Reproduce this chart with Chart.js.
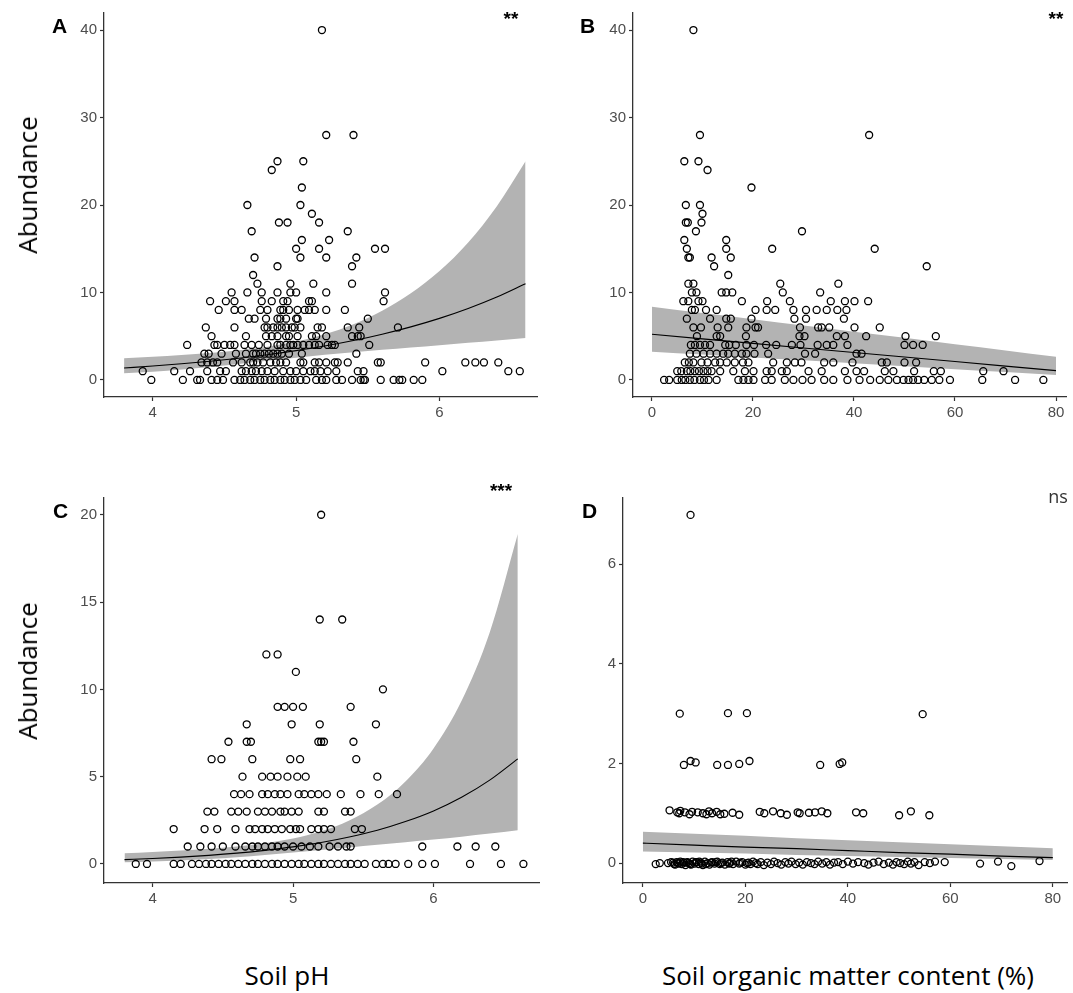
<!DOCTYPE html>
<html>
<head>
<meta charset="utf-8">
<script src="https://cdn.jsdelivr.net/npm/chart.js@4.4.1/dist/chart.umd.min.js"></script>
<style>
  html, body { margin: 0; padding: 0; background: #fff; }
  #fig { position: relative; width: 1073px; height: 993px; overflow: hidden; font-family: "Liberation Sans", Arial, sans-serif; }
  canvas { position: absolute; }
  .tag { position: absolute; font-weight: bold; font-size: 21px; line-height: 1; color: #000; }
  .sig { position: absolute; font-weight: bold; font-size: 19px; line-height: 1; color: #000; transform: translateX(-50%); }
  .ns { position: absolute; font-family: "Open Sans", sans-serif; font-size: 18px; line-height: 1; color: #333; transform: translateX(-50%); }
  .title { position: absolute; font-family: "Open Sans", sans-serif; font-size: 26px; line-height: 1; color: #000; white-space: nowrap; }
  .xt { transform: translate(-50%, -50%); }
  .yt { transform: translate(-50%, -50%) rotate(-90deg); }
</style>
</head>
<body>
<div id="fig">
  <canvas id="cA" width="545" height="440" style="left:0;top:0"></canvas>
  <canvas id="cB" width="528" height="440" style="left:545px;top:0"></canvas>
  <canvas id="cC" width="545" height="440" style="left:0;top:470px"></canvas>
  <canvas id="cD" width="528" height="440" style="left:545px;top:470px"></canvas>

  <div class="tag" style="left:52px;top:15px">A</div>
  <div class="tag" style="left:580px;top:15px">B</div>
  <div class="tag" style="left:53px;top:500px">C</div>
  <div class="tag" style="left:582px;top:500px">D</div>

  <div class="sig" style="left:511px;top:9px">**</div>
  <div class="sig" style="left:1056px;top:9px">**</div>
  <div class="sig" style="left:501px;top:481px">***</div>
  <div class="ns" style="left:1058px;top:487px">ns</div>

  <div class="title yt" style="left:27px;top:185px">Abundance</div>
  <div class="title yt" style="left:27px;top:671px">Abundance</div>
  <div class="title xt" style="left:287px;top:975px">Soil pH</div>
  <div class="title xt" style="left:848px;top:975px">Soil organic matter content (%)</div>
</div>

<script>
// ---------- Tick values ----------
const phTicks = [4, 5, 6];
const somTicks = [0, 20, 40, 60, 80];
const abundTicksTop = [0, 10, 20, 30, 40];
const abundTicksC = [0, 5, 10, 15, 20];
const abundTicksD = [0, 2, 4, 6];

// ---------- Observations: [abundance, [x values at that abundance]] ----------
// Panel A: abundance vs soil pH
const soilPhByAbundanceA = [
  [40, [5.18]],
  [28, [5.21, 5.40]],
  [25, [4.87, 5.05]],
  [24, [4.83]],
  [22, [5.04]],
  [20, [4.66, 5.03]],
  [19, [5.11]],
  [18, [4.88, 4.94, 5.16]],
  [17, [4.69, 5.36]],
  [16, [5.04, 5.23]],
  [15, [5.00, 5.16, 5.55, 5.62]],
  [14, [4.71, 5.03, 5.21, 5.42]],
  [13, [4.87, 5.39]],
  [12, [4.70]],
  [11, [4.73, 4.96, 5.12, 5.39]],
  [10, [4.55, 4.66, 4.76, 4.87, 4.96, 5.00, 5.21, 5.62]],
  [9,  [4.40, 4.51, 4.57, 4.76, 4.83, 4.91, 4.94, 5.09, 5.11, 5.61]],
  [8,  [4.46, 4.57, 4.62, 4.75, 4.80, 4.89, 4.91, 4.95, 5.01, 5.06, 5.09, 5.13, 5.21, 5.34]],
  [7,  [4.67, 4.71, 4.79, 4.87, 4.89, 4.93, 5.00, 5.01, 5.50]],
  [6,  [4.37, 4.57, 4.78, 4.80, 4.84, 4.87, 4.90, 4.93, 4.97, 4.99, 5.03, 5.15, 5.18, 5.36, 5.44, 5.71]],
  [5,  [4.41, 4.65, 4.79, 4.83, 4.87, 4.93, 4.95, 5.01, 5.11, 5.14, 5.21, 5.39, 5.43, 5.45]],
  [4,  [4.24, 4.43, 4.45, 4.50, 4.54, 4.57, 4.64, 4.69, 4.74, 4.80, 4.87, 4.89, 4.93, 4.96, 4.98, 5.01, 5.05, 5.09, 5.13, 5.16, 5.22, 5.25, 5.27, 5.51]],
  [3,  [4.36, 4.39, 4.48, 4.58, 4.65, 4.70, 4.72, 4.75, 4.78, 4.81, 4.84, 4.87, 4.90, 4.95, 5.04, 5.42]],
  [2,  [4.34, 4.38, 4.42, 4.45, 4.56, 4.62, 4.68, 4.70, 4.73, 4.77, 4.82, 4.86, 4.89, 4.93, 5.03, 5.05, 5.13, 5.16, 5.21, 5.27, 5.29, 5.36, 5.57, 5.59, 5.90, 6.18, 6.25, 6.31, 6.41]],
  [1,  [3.93, 4.15, 4.26, 4.38, 4.47, 4.51, 4.62, 4.65, 4.69, 4.72, 4.76, 4.80, 4.85, 4.91, 4.96, 5.00, 5.05, 5.10, 5.13, 5.17, 5.22, 5.28, 5.43, 5.47, 6.02, 6.48, 6.56]],
  [0,  [3.99, 4.21, 4.31, 4.33, 4.41, 4.45, 4.49, 4.57, 4.61, 4.64, 4.68, 4.71, 4.75, 4.78, 4.82, 4.85, 4.89, 4.92, 4.96, 4.99, 5.03, 5.07, 5.14, 5.18, 5.21, 5.28, 5.32, 5.39, 5.45, 5.47, 5.48, 5.59, 5.68, 5.72, 5.74, 5.82, 5.88]]
];

// Panel B: abundance vs soil organic matter (%)
const somByAbundanceB = [
  [40, [8.2]],
  [28, [9.5, 43.0]],
  [25, [6.4, 9.2]],
  [24, [11.0]],
  [22, [19.7]],
  [20, [6.7, 9.5]],
  [19, [10.0]],
  [18, [6.7, 7.1, 9.8]],
  [17, [8.7, 29.7]],
  [16, [6.4, 14.7]],
  [15, [6.9, 14.7, 23.8, 44.1]],
  [14, [7.2, 7.5, 11.8, 15.6]],
  [13, [12.3, 54.4]],
  [12, [15.1]],
  [11, [7.2, 8.2, 25.4, 36.9]],
  [10, [7.9, 8.8, 13.8, 14.7, 15.9, 25.9, 33.3]],
  [9,  [6.2, 7.2, 9.2, 10.0, 17.8, 22.8, 27.3, 35.4, 38.2, 40.1, 42.8]],
  [8,  [7.9, 8.5, 10.7, 12.8, 20.5, 22.7, 24.4, 28.0, 30.5, 32.6, 34.6, 36.7, 38.5]],
  [7,  [6.9, 11.5, 14.7, 15.6, 19.7, 28.2, 30.5, 38.0]],
  [6,  [8.2, 9.7, 13.0, 15.1, 18.7, 20.5, 21.0, 29.3, 32.9, 33.6, 35.1, 40.1, 45.1]],
  [5,  [8.9, 12.8, 13.5, 18.6, 29.2, 30.2, 36.6, 38.2, 42.4, 50.2, 56.2]],
  [4,  [7.7, 8.5, 9.5, 10.5, 11.5, 14.5, 15.3, 16.6, 18.7, 20.2, 22.6, 24.6, 27.7, 29.4, 32.8, 34.6, 35.9, 38.7, 50.0, 51.7, 53.6]],
  [3,  [7.5, 8.8, 10.2, 11.5, 12.8, 14.1, 15.1, 16.4, 17.8, 18.7, 20.3, 23.0, 30.3, 32.3, 40.5, 41.5]],
  [2,  [6.5, 7.3, 8.2, 9.8, 11.0, 12.5, 13.5, 14.8, 16.4, 18.0, 19.1, 24.0, 26.7, 28.3, 29.6, 34.1, 35.9, 39.7, 45.5, 46.5, 50.0, 52.3]],
  [1,  [5.0, 5.8, 6.9, 7.6, 8.5, 9.3, 10.2, 11.0, 11.8, 13.5, 16.1, 18.4, 20.1, 22.7, 23.7, 25.7, 26.7, 31.0, 33.6, 38.2, 40.5, 42.0, 46.1, 47.8, 51.9, 55.8, 57.2, 65.6, 69.6]],
  [0,  [2.4, 3.4, 5.0, 5.9, 6.6, 7.5, 8.4, 9.5, 10.3, 11.2, 12.8, 17.1, 18.1, 19.1, 20.1, 22.4, 23.7, 26.3, 28.0, 29.8, 31.6, 34.1, 35.9, 38.7, 41.1, 43.2, 45.1, 46.8, 48.5, 49.8, 50.8, 51.7, 52.7, 53.9, 55.4, 56.9, 59.0, 65.4, 71.9, 77.5]]
];

// Panel C: abundance vs soil pH
const soilPhByAbundanceC = [
  [20, [5.20]],
  [14, [5.19, 5.35]],
  [12, [4.81, 4.89]],
  [11, [5.02]],
  [10, [5.64]],
  [9,  [4.89, 4.94, 5.00, 5.07, 5.41]],
  [8,  [4.67, 4.99, 5.19, 5.59]],
  [7,  [4.54, 4.67, 4.70, 5.18, 5.20, 5.22, 5.43]],
  [6,  [4.42, 4.49, 4.71, 4.98, 5.05, 5.45]],
  [5,  [4.64, 4.78, 4.84, 4.89, 4.96, 5.03, 5.09, 5.60]],
  [4,  [4.58, 4.63, 4.69, 4.78, 4.82, 4.87, 4.91, 4.96, 5.04, 5.08, 5.13, 5.18, 5.24, 5.34, 5.48, 5.61, 5.74]],
  [3,  [4.39, 4.44, 4.56, 4.61, 4.67, 4.75, 4.80, 4.85, 4.91, 4.94, 4.99, 5.04, 5.18, 5.22, 5.37, 5.41]],
  [2,  [4.15, 4.37, 4.46, 4.59, 4.69, 4.73, 4.78, 4.82, 4.87, 4.92, 4.98, 5.02, 5.05, 5.13, 5.18, 5.22, 5.27, 5.44, 5.49]],
  [1,  [4.25, 4.34, 4.42, 4.50, 4.59, 4.66, 4.71, 4.75, 4.80, 4.85, 4.89, 4.94, 5.00, 5.06, 5.12, 5.18, 5.26, 5.32, 5.38, 5.41, 5.92, 6.17, 6.30, 6.44]],
  [0,  [3.88, 3.96, 4.15, 4.20, 4.28, 4.33, 4.38, 4.42, 4.47, 4.52, 4.56, 4.61, 4.66, 4.71, 4.75, 4.80, 4.85, 4.89, 4.94, 4.99, 5.04, 5.08, 5.13, 5.18, 5.22, 5.27, 5.32, 5.37, 5.41, 5.46, 5.51, 5.59, 5.64, 5.68, 5.73, 5.82, 5.92, 6.01, 6.26, 6.48, 6.64]]
];

// Panel D: [soil organic matter (%), abundance] (small vertical jitter)
const pointsD = [
  [9.3, 6.99], [7.2, 3.0], [16.6, 3.01], [20.3, 3.01], [54.6, 2.99],
  [8.0, 1.97], [9.3, 2.05], [10.3, 2.02], [14.5, 1.97], [16.6, 1.97], [18.8, 1.99], [20.8, 2.05], [34.6, 1.97], [38.4, 1.99], [38.9, 2.02],
  [5.2, 1.06], [6.7, 1.02], [7.1, 1.0], [7.3, 1.05], [8.2, 1.02], [9.1, 0.98], [9.6, 1.03], [10.7, 1.02], [11.7, 1.0], [12.4, 0.98],
  [12.9, 1.04], [13.5, 1.0], [14.4, 1.03], [15.1, 0.98], [15.9, 0.99], [17.5, 1.01], [18.8, 0.97], [22.8, 1.03], [23.7, 1.0],
  [25.4, 1.04], [26.9, 1.0], [28.1, 0.97], [30.2, 1.02], [30.6, 1.0], [32.4, 1.01], [33.6, 1.02], [34.9, 1.04], [36.0, 1.0],
  [41.6, 1.02], [43.0, 1.0], [50.0, 0.96], [52.3, 1.04], [55.9, 0.96],
  [2.5, -0.02], [3.3, 0.0], [4.9, 0.0], [5.5, 0.02], [5.9, 0.01], [6.1, -0.02], [6.3, -0.03], [6.6, 0.02], [6.8, 0.0], [7.0, -0.01],
  [7.3, 0.03], [7.6, -0.02], [7.8, 0.02], [8.0, 0.01], [8.3, -0.04], [8.5, 0.01], [8.7, 0.02], [9.0, 0.0], [9.2, -0.02], [9.4, -0.03],
  [9.7, 0.03], [10.1, -0.01], [10.3, 0.02], [10.5, 0.02], [10.9, -0.02], [11.0, 0.03], [11.3, 0.01], [11.5, -0.01], [11.7, -0.04],
  [12.1, 0.03], [12.3, -0.02], [12.6, 0.0], [13.0, -0.03], [13.3, 0.01], [13.5, 0.02], [14.0, -0.01], [14.2, 0.02], [14.5, 0.03],
  [15.0, -0.02], [15.2, 0.0], [15.5, 0.01], [16.0, -0.03], [16.5, 0.02], [16.8, -0.01], [17.0, 0.0], [17.3, 0.03], [17.6, -0.02],
  [18.2, 0.03], [18.8, -0.01], [19.0, 0.01], [19.4, 0.02], [20.0, -0.03], [20.3, 0.0], [20.6, 0.01], [21.0, -0.02], [21.5, 0.03],
  [22.0, 0.0], [22.4, -0.02], [23.0, 0.02], [23.6, -0.04], [24.3, 0.01], [25.0, -0.02], [25.6, 0.03], [26.3, 0.0], [27.0, -0.03],
  [27.8, 0.02], [28.4, -0.01], [29.0, 0.03], [29.8, -0.02], [30.5, 0.01], [31.2, -0.03], [32.0, 0.02], [32.8, 0.0], [33.5, -0.02],
  [34.2, 0.03], [35.0, -0.01], [35.8, 0.02], [36.5, -0.03], [37.3, 0.01], [38.1, 0.02], [39.0, -0.02], [40.0, 0.03], [41.0, -0.01],
  [42.0, 0.02], [43.2, 0.0], [44.0, -0.03], [45.0, 0.01], [46.0, 0.03], [47.0, -0.02], [48.0, 0.01], [48.8, -0.03], [49.5, 0.02],
  [50.2, 0.0], [51.0, -0.02], [51.7, 0.03], [52.3, -0.01], [53.0, 0.02], [53.8, -0.04], [55.0, 0.02], [56.0, 0.0], [57.0, 0.03],
  [58.9, 0.02], [65.8, -0.01], [69.3, 0.03], [71.9, -0.06], [77.4, 0.04]
];

// ---------- Fitted curves with 95% confidence bands ----------
const phGrid = [3.8, 4.0, 4.2, 4.4, 4.6, 4.8, 5.0, 5.2, 5.4, 5.6, 5.8, 6.0, 6.2, 6.4, 6.6];
const fitA   = [1.37, 1.59, 1.85, 2.14, 2.48, 2.88, 3.35, 3.88, 4.50, 5.23, 6.07, 7.04, 8.17, 9.48, 11.0];
const upperA = [2.48, 2.66, 2.86, 3.09, 3.39, 3.80, 4.40, 5.23, 6.38, 7.92, 9.91, 12.45, 15.72, 19.87, 25.0];
const lowerA = [0.76, 0.95, 1.20, 1.48, 1.82, 2.18, 2.55, 2.88, 3.17, 3.45, 3.72, 3.98, 4.25, 4.52, 4.80];

const fitC   = [0.25, 0.314, 0.394, 0.494, 0.620, 0.779, 0.977, 1.226, 1.54, 1.93, 2.43, 3.04, 3.82, 4.80, 6.02];
const upperC = [0.61, 0.68, 0.77, 0.87, 1.00, 1.19, 1.46, 1.87, 2.49, 3.40, 4.73, 6.62, 9.35, 13.26, 18.9];
const lowerC = [0.10, 0.144, 0.20, 0.28, 0.38, 0.51, 0.65, 0.80, 0.95, 1.10, 1.25, 1.40, 1.56, 1.74, 1.93];

const somGrid = [0, 10, 20, 30, 40, 50, 60, 70, 80];
const fitB   = [5.22, 4.70, 4.18, 3.66, 3.14, 2.62, 2.10, 1.58, 1.06];
const upperB = [8.38, 7.66, 6.95, 6.23, 5.52, 4.81, 4.09, 3.38, 2.66];
const lowerB = [3.23, 2.90, 2.57, 2.24, 1.90, 1.57, 1.23, 0.90, 0.57];

const fitD   = [0.40, 0.36, 0.32, 0.29, 0.25, 0.21, 0.18, 0.14, 0.11];
const upperD = [0.63, 0.59, 0.55, 0.50, 0.46, 0.42, 0.38, 0.34, 0.30];
const lowerD = [0.23, 0.21, 0.19, 0.16, 0.14, 0.12, 0.10, 0.08, 0.06];

// ---------- Helpers ----------
const expandRows = rows => rows.flatMap(([y, xs]) => xs.map(x => ({ x, y })));
const zipXY = (xs, ys) => xs.map((x, i) => ({ x, y: ys[i] }));
const tickFont = { family: '"Liberation Sans", Arial, sans-serif', size: 15 };
const axisColor = '#333';

function makePanel(id, o) {
  const axis = (ticks, min, max, isX) => ({
    type: 'linear',
    min, max,
    border: { display: true, color: axisColor, width: 1.3 },
    grid: { display: true, drawOnChartArea: false, drawTicks: true, tickLength: 4, tickColor: axisColor, tickWidth: 1.2 },
    ticks: { color: '#4d4d4d', font: tickFont, padding: isX ? 3 : 3, includeBounds: false, maxRotation: 0, autoSkip: false },
    afterBuildTicks: s => { s.ticks = ticks.map(v => ({ value: v })); },
    afterFit: s => {
      if (isX) { s.height = o.xHeight; s.paddingLeft = 0; s.paddingRight = 0; }
      else { s.width = o.yWidth; s.paddingTop = 0; s.paddingBottom = 0; }
    }
  });

  new Chart(document.getElementById(id), {
    type: 'scatter',
    data: {
      datasets: [
        { type: 'scatter', data: o.points, pointStyle: 'circle', pointRadius: 3.5, pointBorderWidth: 1.3,
          pointBorderColor: '#000', pointBackgroundColor: 'rgba(0,0,0,0)', showLine: false, order: 0, clip: false },
        { type: 'line', data: zipXY(o.grid, o.fit), borderColor: '#000', borderWidth: 1.1, pointRadius: 0,
          fill: false, cubicInterpolationMode: 'monotone', order: 1 },
        { type: 'line', data: zipXY(o.grid, o.upper), borderColor: 'rgba(0,0,0,0)', borderWidth: 0, pointRadius: 0,
          backgroundColor: '#b3b3b3', fill: '+1', cubicInterpolationMode: 'monotone', order: 2 },
        { type: 'line', data: zipXY(o.grid, o.lower), borderColor: 'rgba(0,0,0,0)', borderWidth: 0, pointRadius: 0,
          fill: false, cubicInterpolationMode: 'monotone', order: 3 }
      ]
    },
    options: {
      responsive: false,
      animation: false,
      events: [],
      devicePixelRatio: 1,
      layout: { padding: o.padding },
      plugins: { legend: { display: false }, tooltip: { enabled: false } },
      scales: {
        x: axis(o.xTicks, o.xMin, o.xMax, true),
        y: axis(o.yTicks, o.yMin, o.yMax, false)
      }
    }
  });
}

// Panel A
makePanel('cA', {
  points: expandRows(soilPhByAbundanceA), grid: phGrid, fit: fitA, upper: upperA, lower: lowerA,
  xTicks: phTicks, yTicks: abundTicksTop, xMin: 3.66, xMax: 6.68, yMin: -1.95, yMax: 41.95,
  padding: { left: 0, top: 13, right: 8, bottom: 0 }, yWidth: 104, xHeight: 43
});
// Panel B
makePanel('cB', {
  points: expandRows(somByAbundanceB), grid: somGrid, fit: fitB, upper: upperB, lower: lowerB,
  xTicks: somTicks, yTicks: abundTicksTop, xMin: -3.76, xMax: 81.98, yMin: -1.95, yMax: 41.95,
  padding: { left: 0, top: 13, right: 7, bottom: 0 }, yWidth: 88, xHeight: 43
});
// Panel C
makePanel('cC', {
  points: expandRows(soilPhByAbundanceC), grid: phGrid, fit: fitC, upper: upperC, lower: lowerC,
  xTicks: phTicks, yTicks: abundTicksC, xMin: 3.654, xMax: 6.756, yMin: -1.09, yMax: 20.96,
  padding: { left: 0, top: 28, right: 2, bottom: 0 }, yWidth: 104, xHeight: 27
});
// Panel D
makePanel('cD', {
  points: pointsD.map(([x, y]) => ({ x, y })), grid: somGrid, fit: fitD, upper: upperD, lower: lowerD,
  xTicks: somTicks, yTicks: abundTicksD, xMin: -3.88, xMax: 82.9, yMin: -0.40, yMax: 7.33,
  padding: { left: 0, top: 28, right: 3, bottom: 0 }, yWidth: 78, xHeight: 27
});
</script>
</body>
</html>
